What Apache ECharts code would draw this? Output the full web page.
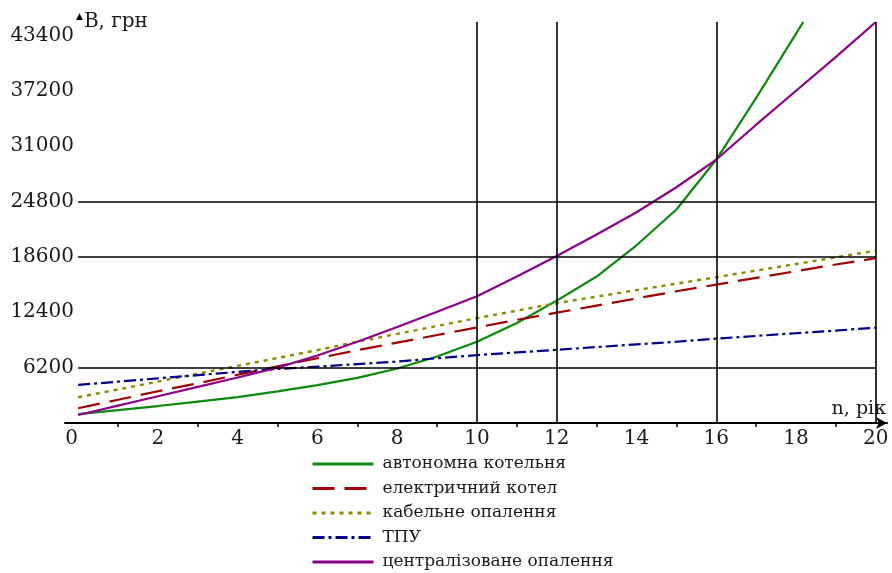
<!DOCTYPE html>
<html><head><meta charset="utf-8">
<script src="https://cdn.jsdelivr.net/npm/echarts@6/dist/echarts.min.js"></script>
<style>html,body{margin:0;padding:0;background:#fff}#c{width:892px;height:573px}</style>
</head><body><div id="c"></div>
<script>
// ---- data ----
const years = [0,1,2,3,4,5,6,7,8,9,10,11,12,13,14,15,16,17,18,19,20];
const autonomous = [1000,1450,1900,2400,2900,3550,4250,5050,6100,7450,9100,11200,13700,16400,19900,23900,29500,36400,43600];
const autonomousEnd = [18.18, 44900];
const electricBoiler = [1650,2600,3550,4450,5400,6350,7250,8150,9000,9850,10700,11550,12350,13150,13950,14750,15500,16250,17000,17750,18450];
const cableHeating = [2880,3760,4640,5520,6400,7280,8160,9100,9980,10870,11740,12580,13420,14150,14880,15600,16330,17070,17800,18550,19300];
const heatPump = [4260,4630,5000,5360,5720,6050,6310,6600,6870,7250,7600,7900,8200,8500,8800,9100,9450,9750,10050,10350,10680];
const central = [900,1950,3000,4050,5100,6200,7550,9100,10750,12450,14200,16400,18700,21100,23600,26400,29500,33400,37200,41000,44900];

const seriesNames = ['автономна котельня','електричний котел','кабельне опалення','ТПУ','централізоване опалення'];
const xLabels = [0,2,4,6,8,10,12,14,16,18,20];
const xTicks = [1,3,5,7,9,11,13,15,17,19];
const yLabels = [6200,12400,18600,24800,31000,37200,43400];
const hLines = [6200,18600,24800];
const vLines = [10,12,16,20];
const yMax = 44900;
const xMin = -0.33, xMax = 20.28;

const pairs = arr => arr.map((v,i)=>[years[i], v]);
const greenData = pairs(autonomous).concat([autonomousEnd]);

const F = 'DejaVu Serif';
const chart = echarts.init(document.getElementById('c'));

const refLines = hLines.map(v => [{coord:[0,v]},{coord:[20,v]}])
  .concat(vLines.map(t => [{coord:[t,0]},{coord:[t,yMax]}]));

chart.setOption({
  animation:false,
  backgroundColor:'#fff',
  grid:{left:65, right:5, top:22, bottom:150, containLabel:false, outerBoundsMode:'none'},
  legend:{
    orient:'vertical', left:311, top:455, padding:0, height:118,
    itemWidth:61, itemHeight:14, itemGap:6.5,
    itemStyle:{opacity:0},
    lineStyle:{width:3},
    textStyle:{fontFamily:F, fontSize:17, color:'#1a1a1a', lineHeight:18, padding:[0,0,0,4]},
    data:seriesNames
  },
  xAxis:{
    type:'value', min:xMin, max:xMax,
    name:'n, рік', nameLocation:'end', nameGap:-1, nameMoveOverlap:false,
    nameTextStyle:{fontFamily:F, fontSize:19, color:'#1a1a1a', align:'right', verticalAlign:'bottom', padding:[0,0,4,0]},
    axisLine:{show:true, onZero:true, lineStyle:{color:'#000', width:2}, symbol:['none','arrow'], symbolSize:[9,11]},
    axisTick:{show:true, customValues:xTicks, length:4, lineStyle:{color:'#000', width:1.5}},
    axisLabel:{customValues:xLabels, fontFamily:F, fontSize:20, color:'#1a1a1a', margin:6,
      formatter:v => v === 0 ? '{z|0}' : String(v),
      rich:{z:{fontFamily:F, fontSize:20, color:'#1a1a1a', padding:[0,13,0,0]}}},
    splitLine:{show:false}
  },
  yAxis:{
    type:'value', min:0, max:yMax,
    name:'{t|▲}B, грн', nameLocation:'end', nameGap:10, nameMoveOverlap:false,
    nameTextStyle:{fontFamily:F, fontSize:20, color:'#1a1a1a', align:'left', verticalAlign:'top', padding:[0,0,0,11],
      rich:{t:{fontSize:9, fontFamily:F, color:'#000', verticalAlign:'top', padding:[0,1,10,0]}}},
    axisLine:{show:false, onZero:false},
    axisTick:{show:false},
    axisLabel:{customValues:yLabels, formatter:v=>String(v), fontFamily:F, fontSize:20, color:'#1a1a1a', margin:-9},
    splitLine:{show:false}
  },
  series:[
    {name:seriesNames[0], type:'line', data:greenData, symbol:'none', showSymbol:false,
     lineStyle:{color:'#0a8a0a', width:2.2}, itemStyle:{color:'#0a8a0a'}, z:3,
     markLine:{silent:true, symbol:'none', label:{show:false}, animation:false,
       lineStyle:{color:'#000', width:1.6, type:'solid'}, emphasis:{disabled:true}, data:refLines}},
    {name:seriesNames[1], type:'line', data:pairs(electricBoiler), symbol:'none', showSymbol:false,
     lineStyle:{color:'#a00000', width:2.2, type:[22,10]}, itemStyle:{color:'#a00000'}, z:3},
    {name:seriesNames[2], type:'line', data:pairs(cableHeating), symbol:'none', showSymbol:false,
     lineStyle:{color:'#8a8a00', width:2.4, type:[4,5]}, itemStyle:{color:'#8a8a00'}, z:3},
    {name:seriesNames[3], type:'line', data:pairs(heatPump), symbol:'none', showSymbol:false,
     lineStyle:{color:'#00008b', width:2.2, type:[12,4,3,4]}, itemStyle:{color:'#00008b'}, z:3},
    {name:seriesNames[4], type:'line', data:pairs(central), symbol:'none', showSymbol:false,
     lineStyle:{color:'#8b008b', width:2.2}, itemStyle:{color:'#8b008b'}, z:3}
  ]
});
</script>
</body></html>
